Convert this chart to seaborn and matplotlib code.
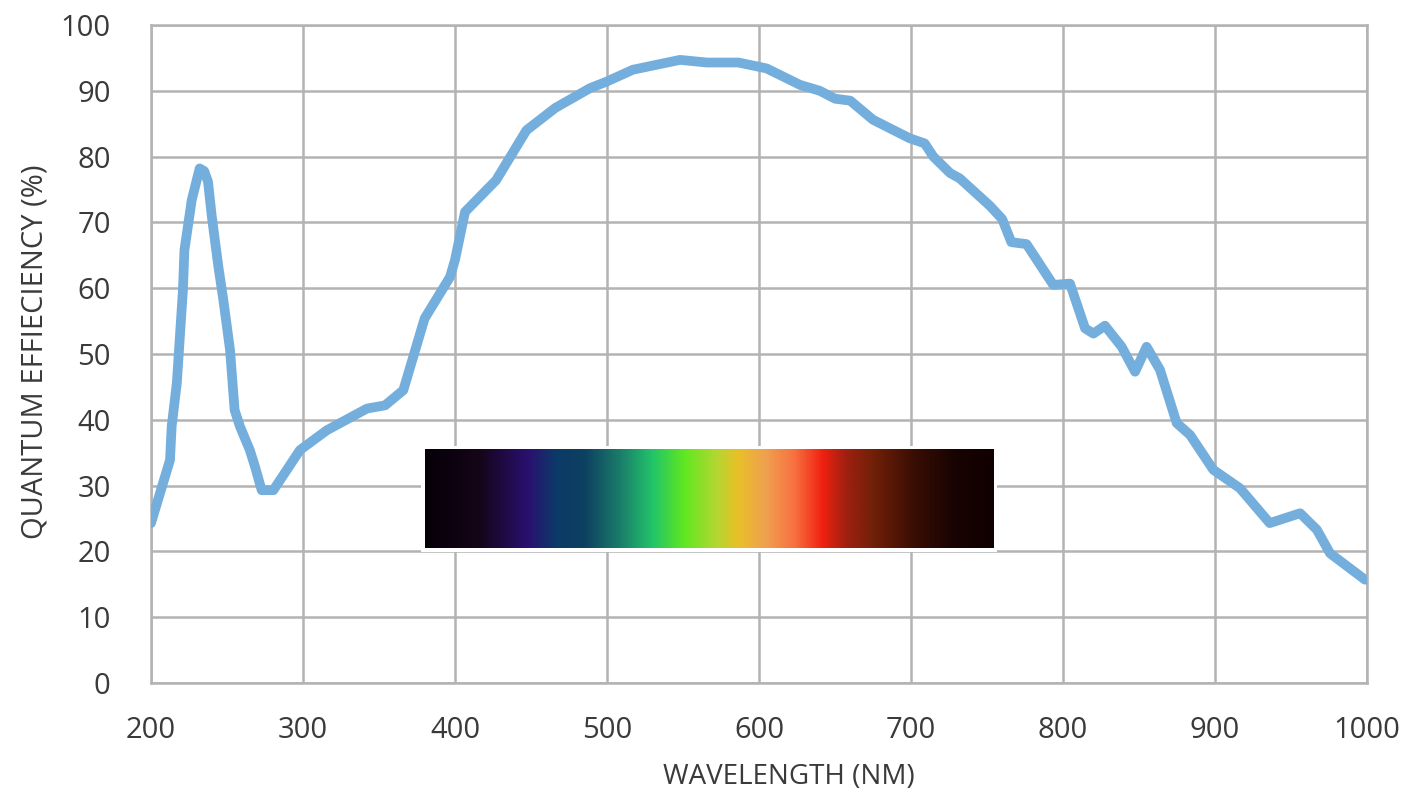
import numpy as np
import pandas as pd
import matplotlib
matplotlib.use("Agg")
import matplotlib.pyplot as plt
import seaborn as sns
from matplotlib.colors import LinearSegmentedColormap
from matplotlib.patches import Rectangle

# ---- data ----
wavelength = [200, 212.5, 213.6, 217, 221, 222, 226.8, 232, 235, 237.5, 240, 244.3,
              247.6, 252, 255, 258.5, 265, 268.4, 272.8, 280.5, 298, 315.6, 342, 354,
              366, 380, 396.7, 400, 406.6, 427, 447, 466, 488.8, 499.8, 517, 548, 565.6,
              586.4, 605, 627, 640, 650, 660, 675, 699, 709, 714.7, 725.7, 732, 752, 760,
              766, 776, 793.6, 804.6, 814.5, 820, 827.6, 838.6, 847.4, 855, 863.8, 874.8,
              883.6, 898.9, 916.4, 936, 956, 967, 975.7, 998.7]
qe = [24.3, 33.9, 39.0, 45.6, 59.7, 65.8, 73.4, 78.2, 77.8, 76.2, 70.9, 63.3,
      58.2, 50.6, 41.5, 39.0, 35.4, 32.9, 29.3, 29.3, 35.4, 38.4, 41.7, 42.2,
      44.5, 55.4, 61.7, 64.3, 71.6, 76.4, 84.0, 87.4, 90.4, 91.4, 93.2, 94.7, 94.3,
      94.3, 93.4, 90.9, 90.0, 88.8, 88.5, 85.6, 82.8, 82.0, 80.0, 77.5, 76.7, 72.5, 70.5,
      67.0, 66.7, 60.5, 60.7, 53.9, 53.1, 54.3, 51.1, 47.3, 51.1, 47.6, 39.5,
      37.7, 32.4, 29.6, 24.3, 25.8, 23.3, 19.7, 15.7]

x_ticks = [200, 300, 400, 500, 600, 700, 800, 900, 1000]
y_ticks = [0, 10, 20, 30, 40, 50, 60, 70, 80, 90, 100]

spectrum_colors = ["#050008", "#150518", "#2a1070", "#0c3a68", "#0d4060", "#1a7a6a",
                   "#22c46a", "#60e820", "#b0d830", "#e8c028", "#f0a050", "#f87040",
                   "#f02010", "#a02010", "#702008", "#3a0e04", "#180402", "#100000"]
spectrum_stops = [0.0, 0.094, 0.18, 0.23, 0.28, 0.34, 0.40, 0.456, 0.51, 0.55, 0.60,
                  0.65, 0.70, 0.74, 0.79, 0.86, 0.93, 1.0]
spectrum_extent = [380.3, 754, 20.5, 35.4]

# ---- style ----
sns.set_theme(style="white")
plt.rcParams["font.family"] = ["Open Sans", "DejaVu Sans"]
text_color = "#3a3a3a"
grid_color = "#b3b3b3"

fig = plt.figure(figsize=(14.21, 7.92), dpi=100)
ax = fig.add_axes([151 / 1421, 1 - 683 / 792, (1367 - 151) / 1421, (683 - 25) / 792])

df = pd.DataFrame({"wavelength": wavelength, "qe": qe})
sns.lineplot(data=df, x="wavelength", y="qe", ax=ax, color="#74aedd",
             linewidth=7, zorder=5, sort=False, solid_joinstyle="round",
             solid_capstyle="round")

ax.set_xlim(200, 1000)
ax.set_ylim(0, 100)
ax.set_xticks(x_ticks)
ax.set_yticks(y_ticks)
ax.grid(True, color=grid_color, linewidth=1.8, zorder=0)
ax.set_axisbelow(True)
for s in ax.spines.values():
    s.set_color(grid_color)
    s.set_linewidth(1.8)
ax.tick_params(axis="both", length=0, labelsize=21, labelcolor=text_color)
ax.tick_params(axis="x", pad=24)
ax.tick_params(axis="y", pad=29)

ax.set_xlabel("WAVELENGTH (NM)", fontsize=20, color=text_color, va="center")
ax.xaxis.set_label_coords((789 - 151) / 1216, (683 - 777) / 658)
ax.set_ylabel("QUANTUM EFFIECIENCY (%)", fontsize=21, color=text_color, va="center")
ax.yaxis.set_label_coords((35 - 151) / 1216, 0.503)

# spectrum strip
cmap = LinearSegmentedColormap.from_list("spec", list(zip(spectrum_stops, spectrum_colors)))
grad = np.linspace(0, 1, 512).reshape(1, -1)
x0, x1, y0, y1 = spectrum_extent
ax.add_patch(Rectangle((x0 - 2.5, y0 - 0.6), (x1 - x0) + 5, (y1 - y0) + 1.2,
                       facecolor="white", edgecolor="none", zorder=2))
ax.imshow(grad, cmap=cmap, aspect="auto", extent=spectrum_extent, zorder=3,
          interpolation="bilinear")
ax.set_xlim(200, 1000)
ax.set_ylim(0, 100)

fig.savefig("out.png", dpi=100)
